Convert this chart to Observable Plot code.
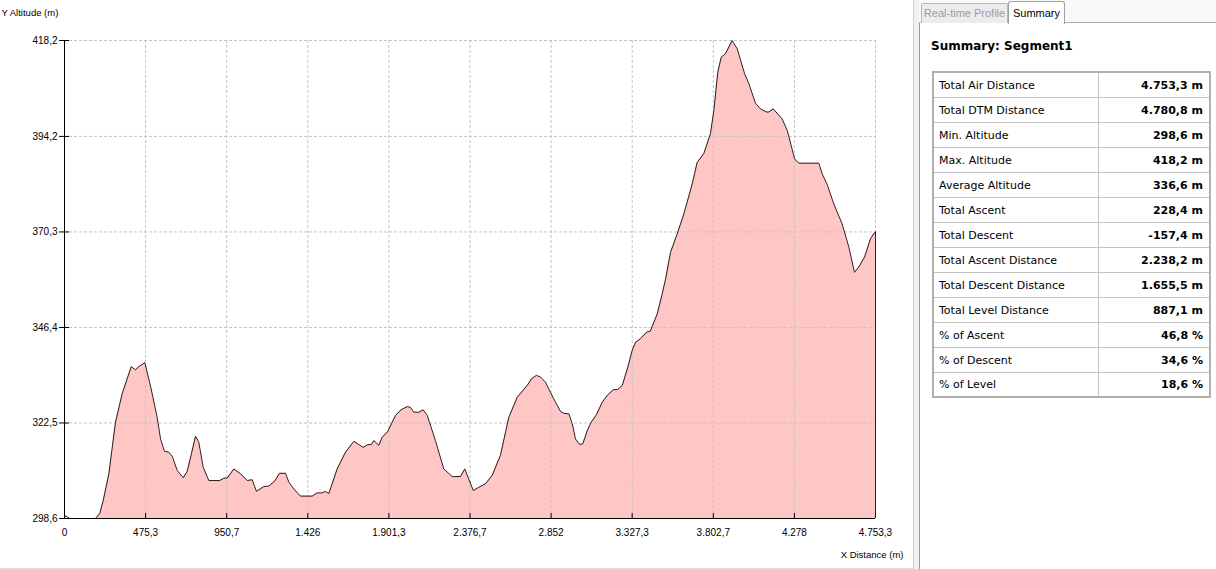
<!DOCTYPE html>
<html>
<head>
<meta charset="utf-8">
<script src="https://cdn.jsdelivr.net/npm/d3@7"></script>
<script src="https://cdn.jsdelivr.net/npm/@observablehq/plot@0.6"></script>
<style>
  html, body { margin: 0; padding: 0; background: #ffffff; width: 1216px; height: 569px; overflow: hidden; }
  #chart { position: absolute; left: 0; top: 0; width: 913px; height: 568px; background: #fff;
           border-right: 1px solid #cfcfcf; border-bottom: 1px solid #dcdcdc; }
  #splitter { position: absolute; left: 914px; top: 0; width: 5px; height: 569px; background: #f0f0f0; }
  #tabstrip { position: absolute; left: 919px; top: 0; width: 297px; height: 22px; background: #f9f9f9; }
  #body { position: absolute; left: 919px; top: 22px; width: 296px; height: 547px; background: #fff;
          border-left: 1px solid #9a9a9a; border-top: 1px solid #a8b0b2; }
  .tab { position: absolute; font-family: "Liberation Sans", Arial, sans-serif; font-size: 11px;
         box-sizing: border-box; line-height: 18px; text-align: center; }
  #tab1 { left: 921px; top: 3px; width: 87px; height: 20px; background: #ececec; color: #9c9c9c;
          border: 1px solid #b6b6b6; border-bottom: none; border-radius: 2px 2px 0 0; }
  #tab2 { left: 1008px; top: 1px; width: 57px; height: 23px; background: #fff; color: #000;
          border: 1px solid #9aa3a6; border-bottom: none; border-radius: 3px 3px 0 0; line-height: 22px; }
  #title { position: absolute; left: 931px; top: 39px; font-family: "DejaVu Sans", Verdana, sans-serif;
           font-weight: bold; font-size: 12px; color: #000; }
  #summary { position: absolute; left: 932px; top: 71px; width: 279px; border-collapse: collapse;
             font-family: "DejaVu Sans", Verdana, sans-serif; font-size: 11px; color: #000;
             border: 2px solid #b0b0b0; }
  #summary tr { height: 25px; }
  #summary td { padding: 1px 0 0 0; border: 1px solid #c4c4c4; }
  #summary td.l { width: 159px; padding-left: 5px; }
  #summary td.v { text-align: right; font-weight: bold; padding-right: 6px; }
</style>
</head>
<body>
<div id="chart"></div>
<div id="splitter"></div>
<div id="tabstrip"></div>
<div id="body"></div>
<div class="tab" id="tab1">Real-time Profile</div>
<div class="tab" id="tab2">Summary</div>
<div id="title">Summary: Segment1</div>
<table id="summary"></table>
<script>
// ---- data ----
const distances = [0, 31, 182, 207, 227, 260, 299, 338, 391, 416,
  435, 471, 508, 543, 563, 586, 611, 631, 661, 696,
  719, 744, 768, 787, 813, 846, 910, 934, 954, 992,
  1032, 1071, 1100, 1125, 1168, 1197, 1231, 1260, 1295, 1315,
  1344, 1383, 1452, 1481, 1510, 1530, 1549, 1598, 1647, 1696,
  1751, 1778, 1798, 1813, 1842, 1862, 1895, 1940, 1973, 2009,
  2028, 2047, 2077, 2102, 2126, 2174, 2223, 2272, 2321, 2346,
  2396, 2428, 2468, 2507, 2555, 2604, 2653, 2712, 2738, 2766,
  2790, 2819, 2848, 2878, 2907, 2927, 2956, 2976, 2995, 3020,
  3038, 3064, 3087, 3118, 3152, 3181, 3216, 3243, 3269, 3302,
  3327, 3347, 3376, 3411, 3434, 3474, 3503, 3522, 3552, 3591,
  3630, 3679, 3708, 3747, 3786, 3806, 3829, 3849, 3874, 3913,
  3943, 3986, 4011, 4050, 4079, 4115, 4128, 4154, 4206, 4236,
  4279, 4304, 4421, 4441, 4470, 4509, 4558, 4597, 4630, 4655,
  4689, 4724, 4749, 4753.3];
const altitudes = [299.4, 298.6, 298.6, 299.9, 303.1, 309.8, 322.7, 329.8, 336.6, 335.8,
  336.6, 337.6, 331.0, 323.9, 318.5, 315.4, 315.2, 314.2, 310.6, 308.8,
  310.4, 314.8, 319.2, 317.7, 311.4, 308.1, 308.1, 308.7, 308.7, 311.0,
  309.8, 308.1, 308.3, 305.4, 306.6, 306.7, 307.9, 309.9, 309.9, 307.7,
  306.0, 304.2, 304.2, 305.0, 305.0, 305.4, 304.8, 311.0, 315.2, 317.9,
  316.4, 317.1, 317.1, 318.1, 316.9, 318.9, 320.4, 324.4, 325.8, 326.6,
  326.4, 325.2, 325.2, 325.8, 324.4, 318.1, 311.0, 309.1, 309.1, 311.0,
  305.6, 306.4, 307.3, 309.4, 314.4, 323.9, 328.9, 331.9, 333.6, 334.4,
  334.0, 332.7, 330.2, 327.7, 325.4, 324.9, 324.8, 322.3, 318.5, 317.1,
  317.3, 320.6, 322.7, 324.6, 327.7, 329.4, 330.8, 330.9, 331.9, 336.5,
  340.6, 342.7, 343.6, 345.2, 345.5, 349.8, 354.8, 358.3, 365.2, 369.8,
  374.8, 382.3, 387.7, 389.9, 394.9, 400.7, 410.3, 414.0, 414.9, 418.2,
  416.1, 409.9, 407.4, 402.5, 401.1, 400.3, 400.3, 401.1, 398.6, 395.7,
  388.6, 387.5, 387.5, 384.8, 382.2, 377.3, 372.3, 366.5, 360.2, 361.5,
  364.0, 368.6, 370.2, 370.3];

const xTicks = [0, 475.3, 950.7, 1426, 1901.3, 2376.7, 2852, 3327.3, 3802.7, 4278, 4753.3];
const xTickLabels = ["0", "475,3", "950,7", "1.426", "1.901,3", "2.376,7", "2.852", "3.327,3", "3.802,7", "4.278", "4.753,3"];
const yTicks = [298.6, 322.5, 346.4, 370.3, 394.2, 418.2];
const yTickLabels = ["298,6", "322,5", "346,4", "370,3", "394,2", "418,2"];

const xTitle = "X Distance (m)";
const yTitle = "Y Altitude (m)";

const summaryLabels = ["Total Air Distance", "Total DTM Distance", "Min. Altitude", "Max. Altitude",
  "Average Altitude", "Total Ascent", "Total Descent", "Total Ascent Distance", "Total Descent Distance",
  "Total Level Distance", "% of Ascent", "% of Descent", "% of Level"];
const summaryValues = ["4.753,3 m", "4.780,8 m", "298,6 m", "418,2 m", "336,6 m", "228,4 m", "-157,4 m",
  "2.238,2 m", "1.655,5 m", "887,1 m", "46,8 %", "34,6 %", "18,6 %"];

// ---- build ----
const profile = distances.map((d, i) => ({d, alt: altitudes[i]}));
const yMin = yTicks[0], yMax = yTicks[yTicks.length - 1];
const xMax = xTicks[xTicks.length - 1];
const xLab = new Map(xTicks.map((t, i) => [t, xTickLabels[i]]));
const yLab = new Map(yTicks.map((t, i) => [t, yTickLabels[i]]));
const lineColor = "#2e1c1c";
const gridStyle = {stroke: "#c4c4c4", strokeOpacity: 1, strokeDasharray: "3,2", strokeWidth: 1};

const chart = Plot.plot({
  width: 913,
  height: 568,
  marginLeft: 64,
  marginRight: 38,
  marginTop: 40,
  marginBottom: 50,
  x: {domain: [0, xMax], label: null},
  y: {domain: [yMin, yMax], label: null},
  style: {fontFamily: "'Liberation Sans', Arial, sans-serif", fontSize: "10px", color: "#000", background: "transparent", overflow: "visible"},
  marks: [
    Plot.areaY(profile, {x: "d", y1: yMin, y2: "alt", fill: "#ffc6c6", curve: "linear"}),
    Plot.gridX(xTicks.slice(1), gridStyle),
    Plot.gridY(yTicks.slice(1), gridStyle),
    Plot.lineY(profile, {x: "d", y: "alt", stroke: lineColor, strokeWidth: 1, curve: "linear"}),
    Plot.ruleX([profile[profile.length - 1]], {x: "d", y1: yMin, y2: "alt", stroke: lineColor, strokeWidth: 1}),
    Plot.ruleX([0], {stroke: "#000", strokeWidth: 1}),
    Plot.ruleY([yMin], {stroke: "#000", strokeWidth: 1}),
    // tick marks
    Plot.axisX(xTicks, {anchor: "bottom", tickSize: 5, dy: -5, tickFormat: () => "", label: null, stroke: "#000"}),
    Plot.axisY(yTicks, {anchor: "left", tickSize: 10, dx: 5, tickFormat: () => "", label: null, stroke: "#000"}),
    // tick labels
    Plot.axisX(xTicks, {anchor: "bottom", tickSize: 0, tickPadding: 10, tickFormat: d => xLab.get(d), label: null, fill: "#000"}),
    Plot.axisY(yTicks, {anchor: "left", tickSize: 0, tickPadding: 7, tickFormat: d => yLab.get(d), label: null, fill: "#000"}),
    // axis titles
    Plot.text([yTitle], {text: d => d, frameAnchor: "top-left", dx: -63, dy: -31, textAnchor: "start", fontSize: 9.5, fill: "#000"}),
    Plot.text([xTitle], {text: d => d, frameAnchor: "bottom-right", dx: 28, dy: 39, textAnchor: "end", fontSize: 9.5, fill: "#000"})
  ]
});
document.getElementById("chart").appendChild(chart);

const table = d3.select("#summary");
const rows = table.selectAll("tr").data(summaryLabels).join("tr");
rows.append("td").attr("class", "l").text(d => d);
rows.append("td").attr("class", "v").text((d, i) => summaryValues[i]);
</script>
</body>
</html>
